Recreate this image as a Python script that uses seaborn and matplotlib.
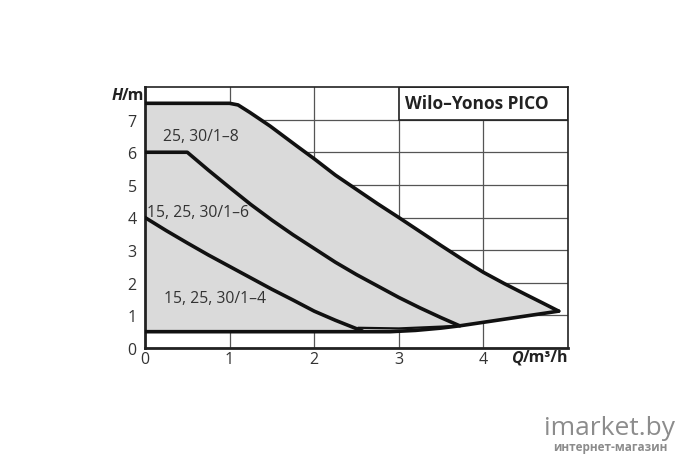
import numpy as np
import matplotlib.pyplot as plt
import seaborn as sns
from matplotlib.patches import Rectangle

# pump curves (Q in m3/h, H in m)
q_max8 = [0, 1.0, 1.1, 1.24, 1.48, 1.79, 2.0, 2.25, 2.5, 2.75, 3.0, 3.25, 3.5, 3.75, 4.0, 4.25, 4.5, 4.7, 4.89]
h_max8 = [7.5, 7.5, 7.45, 7.22, 6.8, 6.2, 5.8, 5.3, 4.86, 4.42, 4.0, 3.57, 3.14, 2.72, 2.32, 1.97, 1.64, 1.38, 1.13]

q_max6 = [0, 0.5, 0.75, 1.0, 1.25, 1.5, 1.75, 2.0, 2.25, 2.5, 2.75, 3.0, 3.25, 3.5, 3.72]
h_max6 = [6.0, 6.0, 5.45, 4.92, 4.4, 3.92, 3.47, 3.05, 2.63, 2.25, 1.9, 1.55, 1.23, 0.93, 0.68]

q_max4 = [0, 0.25, 0.5, 0.75, 1.0, 1.25, 1.5, 1.75, 2.0, 2.25, 2.57]
h_max4 = [4.0, 3.6, 3.22, 2.85, 2.5, 2.15, 1.8, 1.47, 1.13, 0.85, 0.52]

q_min = [0, 2.9, 3.2, 3.5, 3.72, 4.89]
h_min = [0.5, 0.5, 0.54, 0.61, 0.68, 1.13]

q_min6 = [2.52, 3.0, 3.72]
h_min6 = [0.62, 0.6, 0.68]

curve_labels = ["25, 30/1\u20138", "15, 25, 30/1\u20136", "15, 25, 30/1\u20134"]
x_ticks = [0, 1, 2, 3, 4]
y_ticks = [0, 1, 2, 3, 4, 5, 6, 7]
title = "Wilo\u2013Yonos PICO"

sns.set_style("white")
plt.rcParams["font.family"] = ["Open Sans", "DejaVu Sans"]

fig = plt.figure(figsize=(6.8, 4.6), dpi=100)
ax = fig.add_axes([0.2132, 0.2413, 0.6221, 0.5674])

# grey operating field
poly_q = np.concatenate([q_max8, q_min[::-1]])
poly_h = np.concatenate([h_max8, h_min[::-1]])
ax.fill(poly_q, poly_h, color="#dadada", zorder=1, lw=0)

ax.set_xlim(0, 5)
ax.set_ylim(0, 8)
ax.set_xticks(x_ticks)
ax.set_yticks(y_ticks)
ax.grid(True, color="#555555", lw=0.9)
for gl in ax.get_xgridlines() + ax.get_ygridlines():
    gl.set_zorder(1.5)

for q, h in [(q_max8, h_max8), (q_max6, h_max6), (q_max4, h_max4), (q_min, h_min)]:
    sns.lineplot(x=q, y=h, ax=ax, color="#111111", lw=2.6, sort=False,
                 estimator=None, zorder=3, solid_joinstyle="round")
sns.lineplot(x=q_min6, y=h_min6, ax=ax, color="#111111", lw=1.6, sort=False,
             estimator=None, zorder=3)

# title box
ax.add_patch(Rectangle((3, 7), 2, 1, facecolor="white", edgecolor="#222222",
                       lw=1.2, zorder=2.5))
ax.text(3.07, 7.5, title, fontsize=12.5, fontweight="bold", va="center",
        ha="left", color="#222222", zorder=4)

# curve labels
ax.text(0.21, 6.5, curve_labels[0], fontsize=11.3, color="#333333", va="center", zorder=4)
ax.text(0.02, 4.17, curve_labels[1], fontsize=11.3, color="#333333", va="center", zorder=4)
ax.text(0.23, 1.53, curve_labels[2], fontsize=11.3, color="#333333", va="center", zorder=4)

ax.tick_params(axis="both", length=0, labelsize=11.5, colors="#333333")
ax.tick_params(axis="y", pad=6)
ax.tick_params(axis="x", pad=2)

for side in ["left", "bottom"]:
    ax.spines[side].set_linewidth(2.0)
    ax.spines[side].set_color("#222222")
for side in ["top", "right"]:
    ax.spines[side].set_linewidth(1.2)
    ax.spines[side].set_color("#222222")

# axis titles
th = ax.text(-0.40, 7.75, "H", fontsize=11.5, fontweight="bold", fontstyle="italic",
             ha="left", va="center", color="#222222")
ax.annotate("/m", xy=(1, 0), xycoords=th, va="bottom", ha="left",
            fontsize=11.5, fontweight="bold", color="#222222")
tq = ax.text(4.33, -0.28, "Q", fontsize=11.5, fontweight="bold", fontstyle="italic",
             ha="left", va="center", color="#222222", clip_on=False)
ax.annotate("/m\u00b3/h", xy=(1, 0), xycoords=tq, va="bottom", ha="left",
            fontsize=11.5, fontweight="bold", color="#222222")

# watermark
fig.text(0.897, 0.068, "imarket.by", fontsize=19, color="#8c8c8c", ha="center",
         va="center")
fig.text(0.897, 0.028, "интернет-магазин", fontsize=8.5, color="#8c8c8c",
         ha="center", va="center", fontweight="bold")

fig.savefig("out.png", dpi=100)
